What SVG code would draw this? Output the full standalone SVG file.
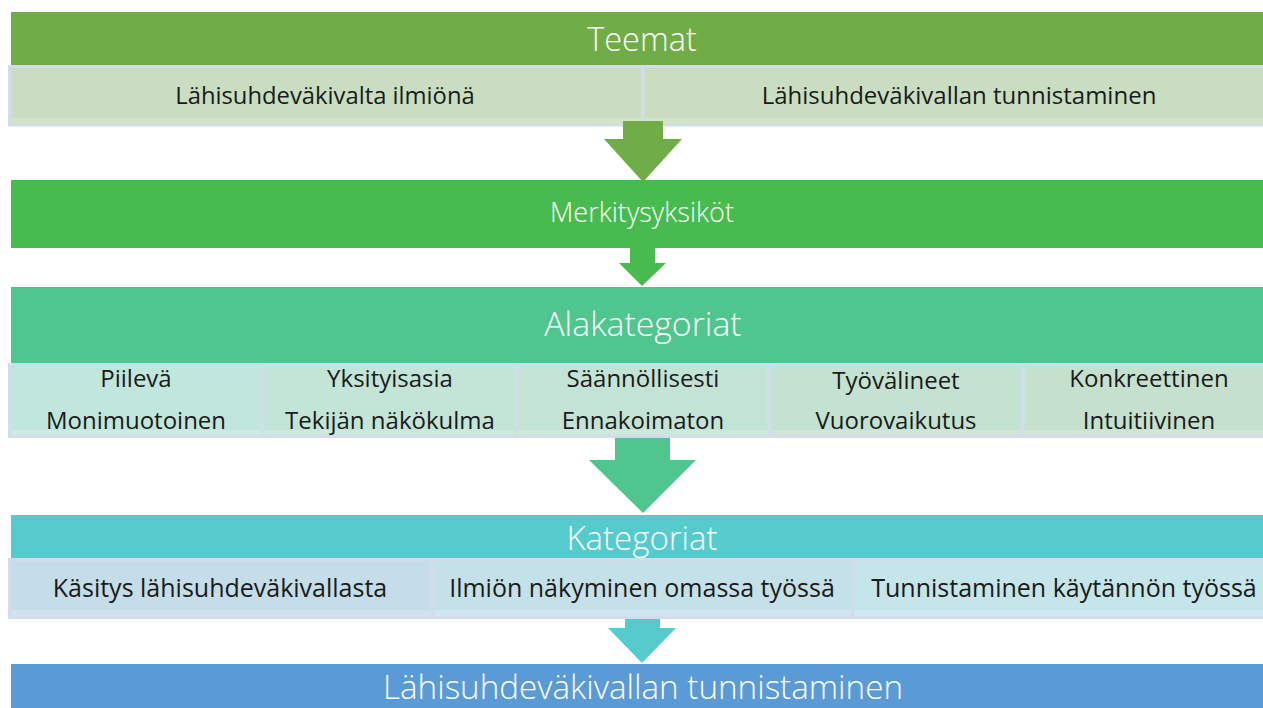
<svg xmlns="http://www.w3.org/2000/svg" width="1263" height="708" viewBox="0 0 1263 708">
<style>
.hd{font-family:"Open Sans","Noto Sans",sans-serif;font-weight:300;fill:#ffffff;text-anchor:middle}
.sb{font-family:"Open Sans","Noto Sans",sans-serif;font-weight:400;fill:#1a1a1a;text-anchor:middle}
.cell{stroke:#D3DCEE;stroke-width:3}
</style>
<rect width="1263" height="708" fill="#ffffff"/>
<g id="teemat">
<rect x="11" y="12" width="1260" height="53" fill="#70AD47"/>
<text class="hd" x="642" y="51" font-size="32.5">Teemat</text>
</g>
<g id="teemat-1">
<rect class="cell" x="9.5" y="66.5" width="633.5" height="58.5" fill="#C9DEC1"/>
<rect x="11" y="118" width="630.5" height="5.5" fill="#D2E5CB"/>
<text class="sb" x="325" y="104" font-size="23.8">Lähisuhdeväkivalta ilmiönä</text>
</g>
<g id="teemat-2">
<rect class="cell" x="643" y="66.5" width="630" height="58.5" fill="#C9DEC1"/>
<rect x="644.5" y="118" width="625" height="5.5" fill="#D2E5CB"/>
<text class="sb" x="959" y="104" font-size="24">Lähisuhdeväkivallan tunnistaminen</text>
</g>
<g id="merkitysyksikot">
<rect x="11" y="180" width="1260" height="68" fill="#48BB4F"/>
<text class="hd" x="642" y="222" font-size="27">Merkitysyksiköt</text>
</g>
<g id="alakategoriat">
<rect x="11" y="287" width="1260" height="76" fill="#4FC68D"/>
<text class="hd" x="643" y="336" font-size="33.8">Alakategoriat</text>
</g>
<g id="ala-1">
<rect class="cell" x="9.5" y="364.5" width="253.5" height="72" fill="#C1E7DC"/>
<rect x="11" y="430" width="250.5" height="5" fill="#CDEBE2"/>
<text class="sb" x="136" y="387" font-size="24">Piilevä</text>
<text class="sb" x="136" y="429" font-size="24">Monimuotoinen</text>
</g>
<g id="ala-2">
<rect class="cell" x="263" y="364.5" width="254" height="72" fill="#C2E5D8"/>
<rect x="264.5" y="430" width="251" height="5" fill="#CDE9DF"/>
<text class="sb" x="390" y="387" font-size="24">Yksityisasia</text>
<text class="sb" x="390" y="429" font-size="24">Tekijän näkökulma</text>
</g>
<g id="ala-3">
<rect class="cell" x="517" y="364.5" width="252" height="72" fill="#C3E3D4"/>
<rect x="518.5" y="430" width="249" height="5" fill="#CEE8DC"/>
<text class="sb" x="643" y="387" font-size="24">Säännöllisesti</text>
<text class="sb" x="643" y="429" font-size="24">Ennakoimaton</text>
</g>
<g id="ala-4">
<rect class="cell" x="769" y="364.5" width="254" height="72" fill="#C4E2D1"/>
<rect x="770.5" y="430" width="251" height="5" fill="#CFE7D9"/>
<text class="sb" x="896" y="389" font-size="24">Työvälineet</text>
<text class="sb" x="896" y="429" font-size="24">Vuorovaikutus</text>
</g>
<g id="ala-5">
<rect class="cell" x="1023" y="364.5" width="250" height="72" fill="#C5E1CD"/>
<rect x="1024.5" y="430" width="247" height="5" fill="#D0E6D6"/>
<text class="sb" x="1149" y="387" font-size="24">Konkreettinen</text>
<text class="sb" x="1149" y="429" font-size="24">Intuitiivinen</text>
</g>
<g id="kategoriat">
<rect x="11" y="515" width="1260" height="43" fill="#55CBCD"/>
<text class="hd" x="642" y="550" font-size="33">Kategoriat</text>
</g>
<g id="kat-1">
<rect class="cell" x="9.5" y="559.5" width="422.5" height="58" fill="#C4DDE9"/>
<rect x="11" y="610" width="419.5" height="6" fill="#D0E2EE"/>
<text class="sb" x="220" y="597" font-size="25">Käsitys lähisuhdeväkivallasta</text>
</g>
<g id="kat-2">
<rect class="cell" x="432" y="559.5" width="421" height="58" fill="#C4E1E9"/>
<rect x="433.5" y="610" width="418" height="6" fill="#D0E5EE"/>
<text class="sb" x="642" y="597" font-size="25">Ilmiön näkyminen omassa työssä</text>
</g>
<g id="kat-3">
<rect class="cell" x="853" y="559.5" width="420" height="58" fill="#C4E5E9"/>
<rect x="854.5" y="610" width="417" height="6" fill="#D0E8EE"/>
<text class="sb" x="1064" y="597" font-size="25">Tunnistaminen käytännön työssä</text>
</g>
<g id="lopputulos">
<rect x="11" y="664" width="1260" height="50" fill="#5B9BD5"/>
<text class="hd" x="643" y="699" font-size="33.2">Lähisuhdeväkivallan tunnistaminen</text>
</g>
<g id="connectors">
<polygon points="623,121 663,121 663,139 682,139 643,182 604,139 623,139" fill="#70AD47"/>
<polygon points="630,248 655,248 655,263 666,263 642,286 619,263 630,263" fill="#48BB4F"/>
<polygon points="615,438 670,438 670,460 696,460 643,513 589,460 615,460" fill="#4FC68D"/>
<polygon points="625,619 660,619 660,628 676,628 642,663 608,628 625,628" fill="#55CBCD"/>
</g>
</svg>
